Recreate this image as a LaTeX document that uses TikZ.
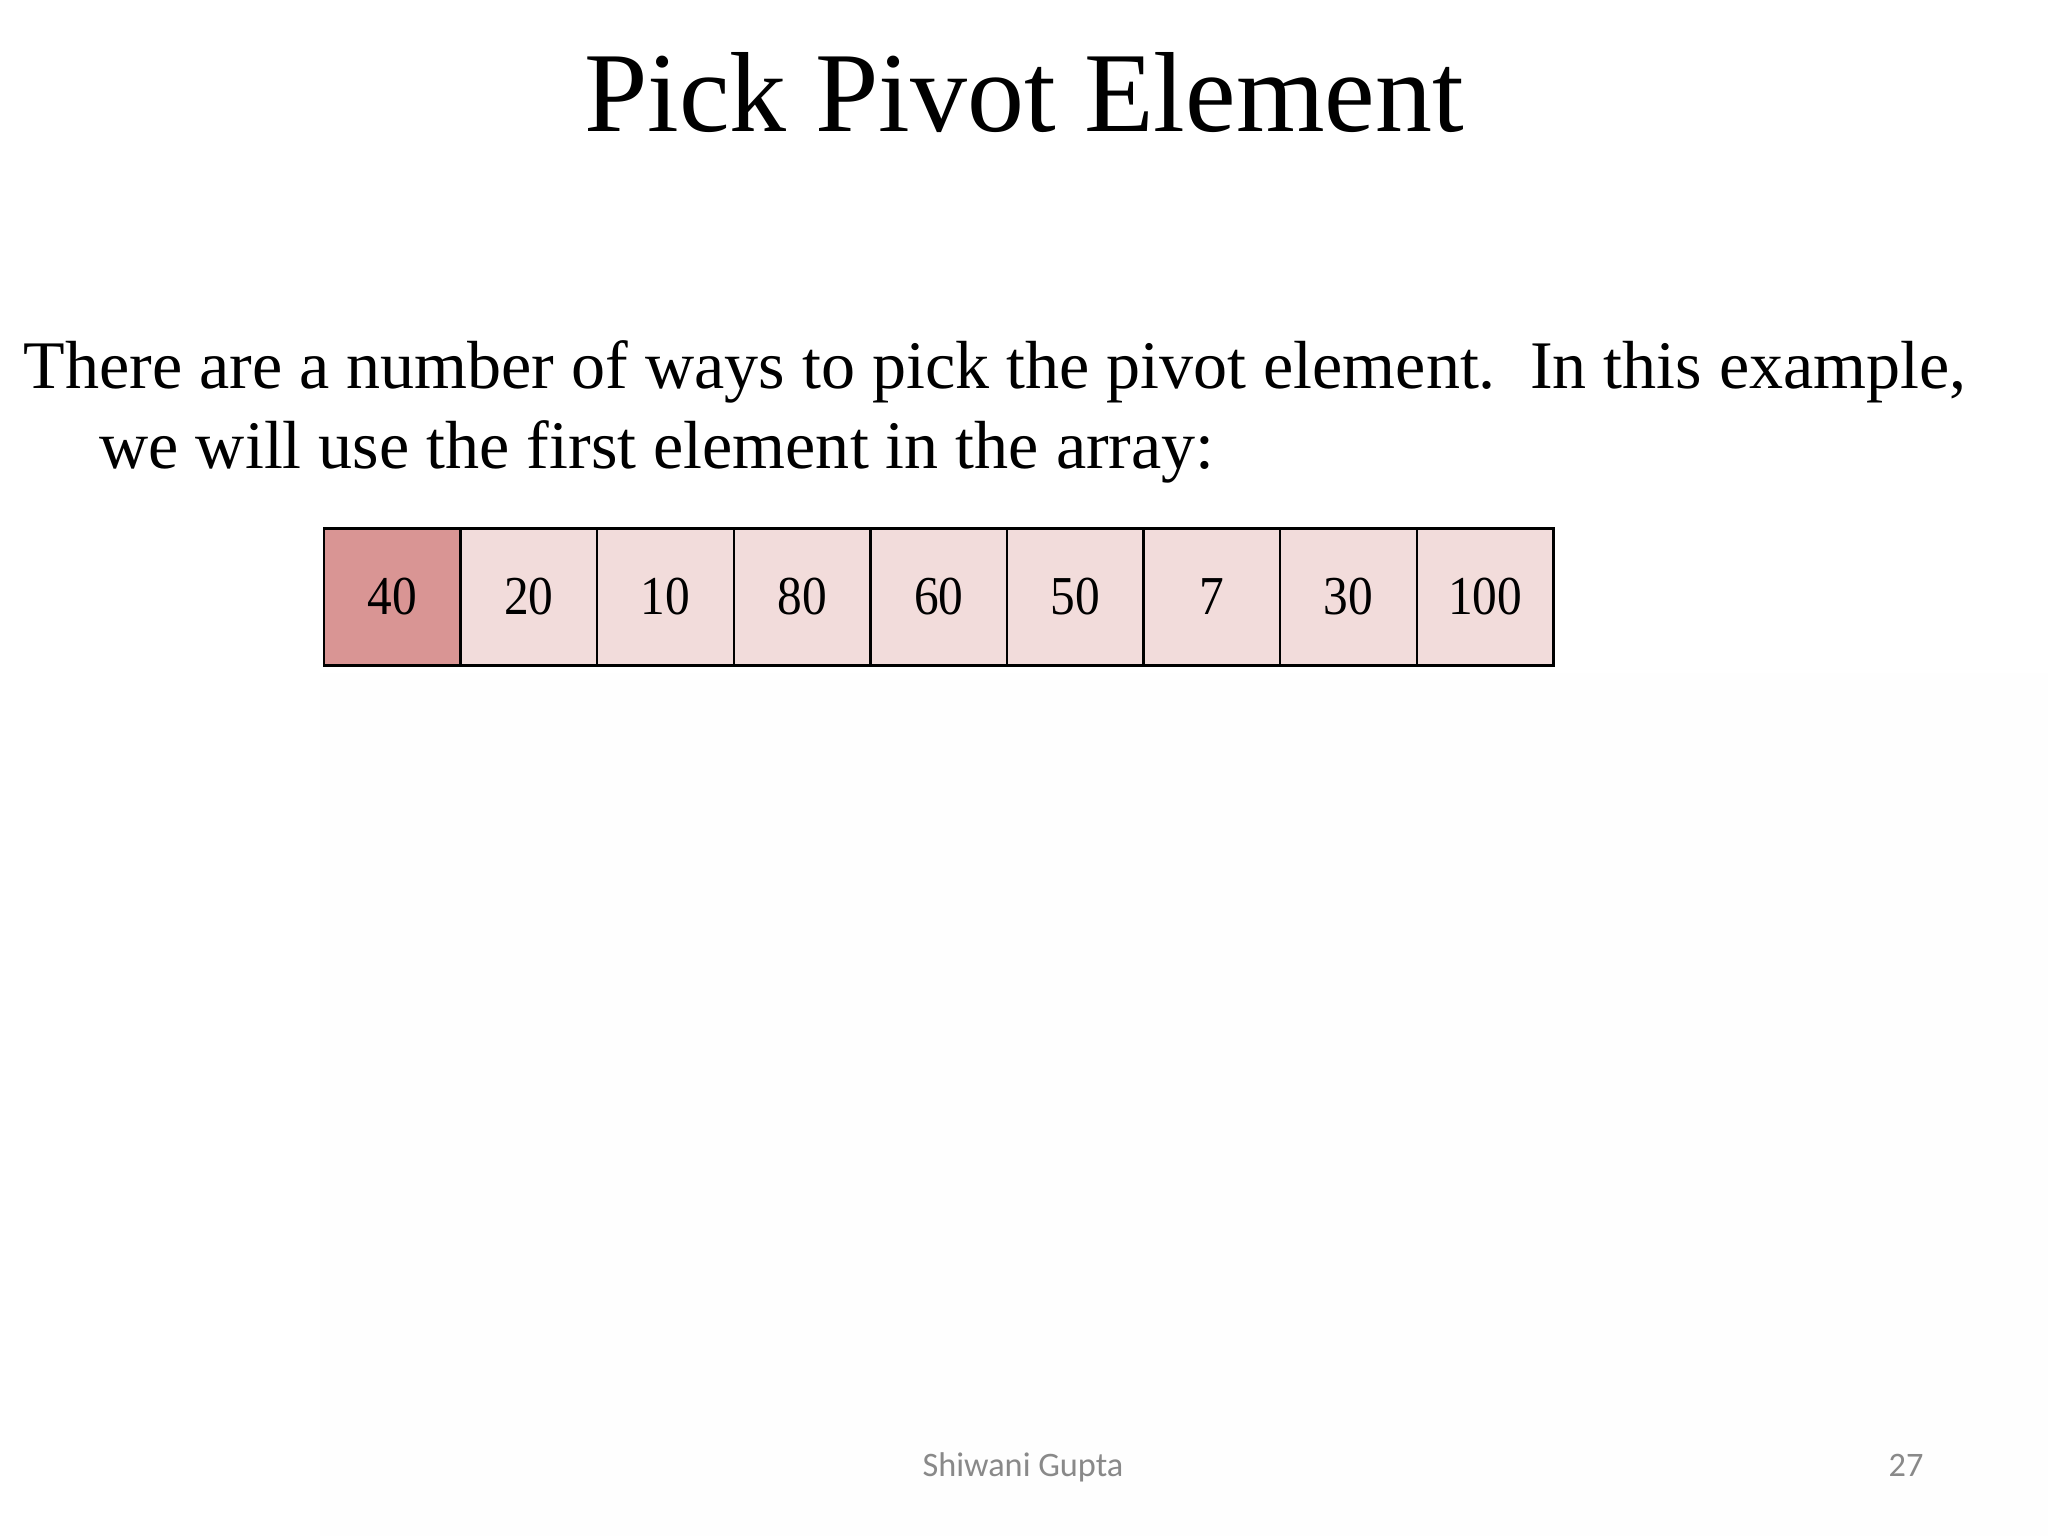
\documentclass[tikz,border=0pt]{standalone}
\usepackage{fontspec}
\setmainfont{Liberation Serif}
\newfontfamily\footfont{Carlito}
\newfontfamily\cellfont[FakeStretch=0.9]{Liberation Serif}
\usetikzlibrary{positioning}
\definecolor{pivotred}{RGB}{217,149,148}
\definecolor{cellpink}{RGB}{242,220,219}
\definecolor{footgray}{RGB}{137,137,137}
\definecolor{pagetint}{RGB}{254,254,254}
\tikzset{
	cell/.style args = {#1}{rectangle, draw=black, line width=0.9pt, fill=#1, minimum size=1.7075cm, inner sep=0pt, font=\cellfont\fontsize{19.5}{23}\selectfont},
	cell/.default = cellpink,
	bodytext/.style = {anchor=base west, inner sep=0pt, font=\fontsize{24.2}{28}\selectfont},
	foottext/.style = {anchor=base, inner sep=0pt, text=footgray, font=\footfont\fontsize{12.2}{15}\selectfont},
}

\begin{document}
\begin{tikzpicture}[x=0.0125cm, y=-0.0125cm]
				\useasboundingbox (0,0) rectangle (2048,1536);
				\fill[white] (0,0) rectangle (2048,1536);
				\fill[pagetint] (320,673) rectangle (2048,1536);
				\node[anchor=base, inner sep=0pt, font=\fontsize{40.5}{48}\selectfont] (title) at (1024,131) {Pick Pivot Element};
				\node[bodytext] (line1) at (23,388) {There are a number of ways to pick the pivot element.\ \ In this example,};
				\node[bodytext] (line2) at (99,468) {we will use the first element in the array:};
				\node[cell=pivotred] (c1) at (392.3,597) {\raisebox{-1.5pt}{40}};
				\foreach \v [count = \i from 2] in {20,10,80,60,50,7,30,100} {
					\node[cell] (c\i) at ({392.3+136.6*(\i-1)},597) {\raisebox{-1.5pt}{\v}};
				}
				\node[foottext] (author) at (1023,1476) {Shiwani Gupta};
				\node[foottext, anchor=base east] (page) at (1924,1476) {27};
			\end{tikzpicture}
\end{document}
